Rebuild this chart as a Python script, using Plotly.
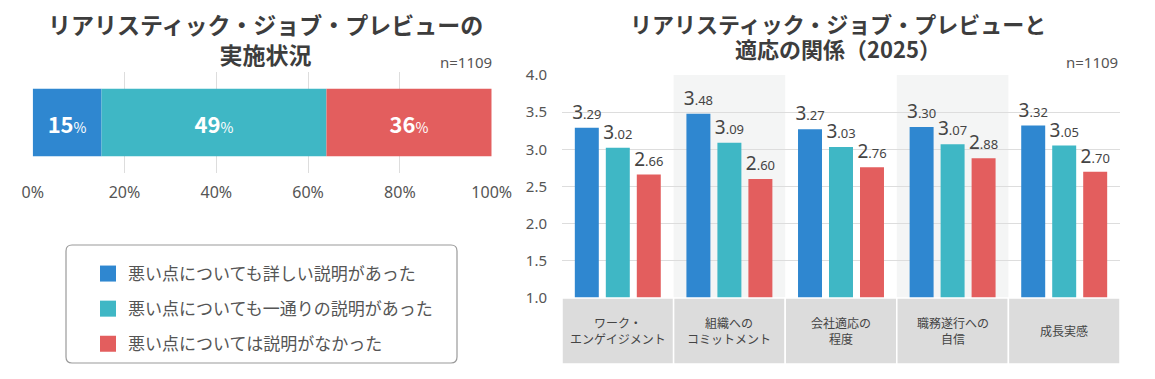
import plotly.graph_objects as go

# page adds an 8px body margin; size the figure so it fills the 1155x379 window
OFF = 8
W, H = 1155 - 2 * OFF, 379 - 2 * OFF

# ---------------- data ----------------
series_names = ["悪い点についても詳しい説明があった",
                "悪い点についても一通りの説明があった",
                "悪い点については説明がなかった"]
colors = ["#2f87d0", "#3fb7c5", "#e35e5e"]

share_values = [15, 49, 36]            # left chart (%)

categories = ["ワーク・<br>エンゲイジメント", "組織への<br>コミットメント",
              "会社適応の<br>程度", "職務遂行への<br>自信", "成長実感"]
scores_detailed = [3.29, 3.48, 3.27, 3.30, 3.32]
scores_general = [3.02, 3.09, 3.03, 3.07, 3.05]
scores_none = [2.66, 2.60, 2.76, 2.88, 2.70]
score_series = [scores_detailed, scores_general, scores_none]

x_ticks_left = [0, 20, 40, 60, 80, 100]
y_ticks_right = [1.0, 1.5, 2.0, 2.5, 3.0, 3.5, 4.0]

JP = "Noto Sans CJK JP"
TXT = "#444444"
GRID = "#dddddd"

def px(x):
    return (x - OFF) / W

def py(y):
    return 1 - (y - OFF) / H

fig = go.Figure()

# ---------------- left: stacked horizontal bar ----------------
base = 0
for name, col, v in zip(series_names, colors, share_values):
    fig.add_trace(go.Bar(
        y=["実施状況"], x=[v], base=[base], orientation="h", name=name,
        offsetgroup="share", width=0.67,
        marker=dict(color=col, line=dict(width=0)),
        text=[f"<b>{v}</b><span style='font-size:14px'>%</span>"],
        textposition="inside", insidetextanchor="middle",
        textfont=dict(color="white", size=22, family=JP),
        xaxis="x", yaxis="y", showlegend=False, legendgroup=name,
        hoverinfo="skip"))
    base += v

# legend proxies (square symbols)
for name, col in zip(series_names, colors):
    fig.add_trace(go.Scatter(
        x=[None], y=[None], mode="markers", name=name,
        marker=dict(symbol="square", size=16, color=col),
        xaxis="x", yaxis="y", legendgroup=name, showlegend=True))

# ---------------- right: grouped bars ----------------
def split_label(v):
    s = f"{v:.2f}"
    return f"{s[0]}<span style='font-size:13px'>{s[1:]}</span>"

for name, col, vals in zip(series_names, colors, score_series):
    fig.add_trace(go.Bar(
        x=list(range(len(categories))), y=vals, name=name,
        marker=dict(color=col, line=dict(width=0)),
        text=[split_label(v) for v in vals], textposition="outside",
        textangle=0, constraintext="none", cliponaxis=False,
        textfont=dict(color=TXT, size=19, family="Noto Sans"),
        xaxis="x2", yaxis="y2", showlegend=False, legendgroup=name,
        hoverinfo="skip"))

shapes = []
# alternating column shading
for i in range(len(categories)):
    if i % 2 == 1:
        shapes.append(dict(type="rect", xref="x2", yref="y2 domain",
                           x0=i - 0.5, x1=i + 0.5, y0=0, y1=1,
                           fillcolor="#f4f5f5", line=dict(width=0),
                           layer="below"))
# category label boxes
for i in range(len(categories)):
    shapes.append(dict(type="rect", xref="x2", yref="y2 domain",
                       x0=i - 0.5, x1=i + 0.5, y0=-0.296, y1=0,
                       fillcolor="#dcdcdc", line=dict(color="white", width=1.5),
                       layer="above"))

# rounded legend frame
x0, x1, y0, y1, r = 66, 457, 245, 363, 6
path = (f"M {px(x0 + r)} {py(y0)} L {px(x1 - r)} {py(y0)} "
        f"Q {px(x1)} {py(y0)} {px(x1)} {py(y0 + r)} "
        f"L {px(x1)} {py(y1 - r)} Q {px(x1)} {py(y1)} {px(x1 - r)} {py(y1)} "
        f"L {px(x0 + r)} {py(y1)} Q {px(x0)} {py(y1)} {px(x0)} {py(y1 - r)} "
        f"L {px(x0)} {py(y0 + r)} Q {px(x0)} {py(y0)} {px(x0 + r)} {py(y0)} Z")
shapes.append(dict(type="path", xref="paper", yref="paper", path=path,
                   line=dict(color="#9a9a9a", width=1.2), fillcolor="rgba(0,0,0,0)"))

annotations = []
for i, c in enumerate(categories):
    annotations.append(dict(x=i, y=-0.1435, xref="x2", yref="y2 domain",
                            text=c, showarrow=False, xanchor="center",
                            yanchor="middle",
                            font=dict(size=12, color=TXT, family=JP)))

title_font = dict(size=23, color="#3d3d3d", family=JP)
title_font_r = dict(size=22, color="#3d3d3d", family=JP)
annotations += [
    dict(x=px(265), y=py(39), xref="paper", yref="paper", showarrow=False,
         text="<b>リアリスティック・ジョブ・プレビューの</b><br><b>実施状況</b>",
         font=title_font, xanchor="center", yanchor="middle", align="center"),
    dict(x=px(838), y=py(23), xref="paper", yref="paper", showarrow=False,
         text="<b>リアリスティック・ジョブ・プレビューと</b>",
         font=title_font_r, xanchor="center", yanchor="middle"),
    dict(x=px(838), y=py(48), xref="paper", yref="paper", showarrow=False,
         text="<b>適応の関係（2025）</b>",
         font=title_font_r, xanchor="center", yanchor="middle"),
    dict(x=px(494), y=py(62), xref="paper", yref="paper", showarrow=False,
         text="n=1109", font=dict(size=15, color="#555555", family="Noto Sans"),
         xanchor="right", yanchor="middle"),
    dict(x=px(1120), y=py(62), xref="paper", yref="paper", showarrow=False,
         text="n=1109", font=dict(size=15, color="#555555", family="Noto Sans"),
         xanchor="right", yanchor="middle"),
]

fig.update_layout(
    width=W, height=H,
    margin=dict(l=0, r=0, t=0, b=0, autoexpand=False),
    paper_bgcolor="white", plot_bgcolor="white",
    barmode="group",
    bargap=0.167, bargroupgap=0.226,
    font=dict(family=JP, color=TXT),
    xaxis=dict(domain=[px(32.7), px(491.7)], range=[0, 100],
               tickvals=x_ticks_left, ticktext=[f"{t}%" for t in x_ticks_left],
               showgrid=True, gridcolor=GRID, gridwidth=1, zeroline=False,
               showline=False, ticks="", ticklabelstandoff=8,
               tickfont=dict(size=16, color="#555555", family="Noto Sans"),
               anchor="y", fixedrange=True, automargin=False),
    yaxis=dict(domain=[py(173), py(72)], range=[-0.5, 0.5],
               showticklabels=False, showgrid=False, zeroline=False,
               anchor="x", fixedrange=True, automargin=False),
    xaxis2=dict(domain=[px(562), px(1120)], range=[-0.5, 4.5],
                showticklabels=False, showgrid=False, zeroline=False,
                showline=False, ticks="", anchor="y2", fixedrange=True,
                automargin=False),
    yaxis2=dict(domain=[py(298), py(75)], range=[1.0, 4.0],
                tickvals=y_ticks_right,
                ticktext=[f"{t:.1f}" for t in y_ticks_right],
                showgrid=True, gridcolor=GRID, gridwidth=1, zeroline=False,
                showline=False, ticks="", ticklabelstandoff=14,
                tickfont=dict(size=15, color="#555555", family="Noto Sans"),
                anchor="x2", fixedrange=True, automargin=False),
    shapes=shapes,
    annotations=annotations,
    showlegend=True,
    legend=dict(x=px(88), y=py(256), xanchor="left", yanchor="top",
                bgcolor="rgba(0,0,0,0)", borderwidth=0,
                font=dict(size=17, color="#555555", family=JP),
                tracegroupgap=10, itemwidth=30),
)

fig.write_html("out.html")
